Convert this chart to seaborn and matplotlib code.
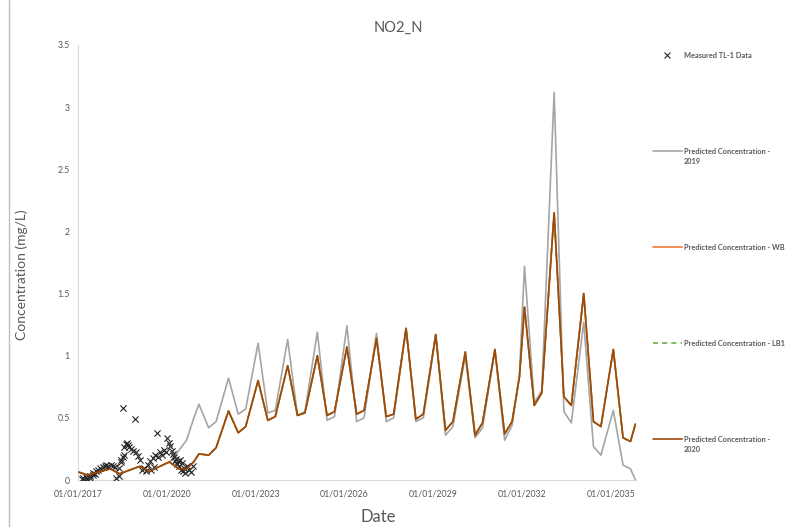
import numpy as np
import pandas as pd
import matplotlib
matplotlib.use("Agg")
import matplotlib.pyplot as plt
from matplotlib.lines import Line2D
import seaborn as sns

# ---- data -------------------------------------------------------------
pred_dates = [
    "2017-01-01", "2017-05-01", "2018-02-01", "2018-06-01", "2019-02-01",
    "2019-06-01", "2020-02-01", "2020-06-01", "2020-09-01", "2020-12-01",
    "2021-02-01", "2021-06-01", "2021-09-01",
    "2022-02-01", "2022-06-01", "2022-09-01",
    "2023-02-01", "2023-06-01", "2023-09-01",
    "2024-02-01", "2024-06-01", "2024-09-01",
    "2025-02-01", "2025-06-01", "2025-09-01",
    "2026-02-01", "2026-06-01", "2026-09-01",
    "2027-02-01", "2027-06-01", "2027-09-01",
    "2028-02-01", "2028-06-01", "2028-09-01",
    "2029-02-01", "2029-06-01", "2029-09-01",
    "2030-02-01", "2030-06-01", "2030-09-01",
    "2031-02-01", "2031-06-01", "2031-09-01", "2031-12-01",
    "2032-02-01", "2032-06-01", "2032-09-01",
    "2033-02-01", "2033-06-01", "2033-09-01",
    "2034-02-01", "2034-06-01", "2034-09-01",
    "2035-02-01", "2035-06-01", "2035-09-01", "2035-11-01",
]

conc_2020 = [
    0.065, 0.04, 0.09, 0.05, 0.11,
    0.07, 0.145, 0.09, 0.09, 0.147,
    0.21, 0.20, 0.26,
    0.555, 0.38, 0.43,
    0.80, 0.48, 0.51,
    0.92, 0.52, 0.54,
    1.00, 0.52, 0.55,
    1.07, 0.53, 0.56,
    1.14, 0.51, 0.53,
    1.22, 0.49, 0.53,
    1.17, 0.40, 0.47,
    1.03, 0.36, 0.46,
    1.05, 0.37, 0.47, 0.83,
    1.39, 0.60, 0.70,
    2.15, 0.67, 0.60,
    1.50, 0.47, 0.43,
    1.05, 0.34, 0.31, 0.45,
]

conc_2019 = [
    np.nan, np.nan, np.nan, np.nan, np.nan,
    np.nan, 0.14, 0.24, 0.32, 0.50,
    0.61, 0.42, 0.47,
    0.82, 0.53, 0.57,
    1.10, 0.54, 0.56,
    1.13, 0.52, 0.55,
    1.19, 0.48, 0.51,
    1.24, 0.47, 0.50,
    1.18, 0.47, 0.50,
    1.22, 0.47, 0.50,
    1.16, 0.36, 0.43,
    1.00, 0.34, 0.42,
    1.04, 0.32, 0.44, 0.85,
    1.72, 0.62, 0.72,
    3.12, 0.55, 0.46,
    1.27, 0.27, 0.20,
    0.56, 0.12, 0.09, 0.0,
]

# WB and LB1 scenarios follow the 2020 run
conc_wb = conc_2020
conc_lb1 = conc_2020

# measured TL-1 samples (decimal year, mg/L)
meas_year = [
    2017.12, 2017.18, 2017.22, 2017.28, 2017.32, 2017.39, 2017.42, 2017.49,
    2017.52, 2017.59, 2017.62, 2017.69, 2017.76, 2017.83, 2017.90, 2017.96,
    2018.03, 2018.10, 2018.17, 2018.24, 2018.30, 2018.37, 2018.37, 2018.44,
    2018.47, 2018.51, 2018.51, 2018.54, 2018.57, 2018.61, 2018.64, 2018.68,
    2018.71, 2018.78, 2018.85, 2018.91, 2018.95, 2019.02, 2019.08, 2019.15,
    2019.22, 2019.29, 2019.35, 2019.42, 2019.46, 2019.52, 2019.56, 2019.59,
    2019.66, 2019.69, 2019.76, 2019.83, 2019.90, 2019.97, 2020.00, 2020.07,
    2020.10, 2020.17, 2020.20, 2020.24, 2020.27, 2020.31, 2020.34, 2020.37,
    2020.41, 2020.44, 2020.47, 2020.51, 2020.54, 2020.58, 2020.61, 2020.68,
    2020.75, 2020.81, 2020.88,
]
meas_val = [
    0.01, 0.015, 0.0, 0.025, 0.01, 0.03, 0.015, 0.04,
    0.055, 0.05, 0.07, 0.08, 0.095, 0.105, 0.11, 0.12,
    0.11, 0.12, 0.11, 0.105, 0.015, 0.03, 0.095, 0.16,
    0.145, 0.185, 0.58, 0.20, 0.265, 0.29, 0.30, 0.28,
    0.265, 0.25, 0.235, 0.49, 0.225, 0.195, 0.16, 0.08,
    0.095, 0.07, 0.12, 0.155, 0.08, 0.175, 0.105, 0.20,
    0.375, 0.185, 0.225, 0.20, 0.24, 0.225, 0.34, 0.30,
    0.275, 0.235, 0.21, 0.185, 0.155, 0.17, 0.13, 0.155,
    0.11, 0.16, 0.08, 0.135, 0.07, 0.095, 0.055, 0.11,
    0.08, 0.065, 0.11,
]

tick_labels = ["01/01/2017", "01/01/2020", "01/01/2023", "01/01/2026",
               "01/01/2029", "01/01/2032", "01/01/2035"]
y_ticks = [0, 0.5, 1, 1.5, 2, 2.5, 3, 3.5]
y_tick_labels = ["0", "0.5", "1", "1.5", "2", "2.5", "3", "3.5"]

legend_labels = ["Measured TL-1 Data", "Predicted Concentration -\n2019",
                 "Predicted Concentration - WB", "Predicted Concentration - LB1",
                 "Predicted Concentration -\n2020"]

# ---- frames -----------------------------------------------------------
pred = pd.DataFrame({
    "date": pd.to_datetime(pred_dates),
    "c2019": conc_2019,
    "cwb": conc_wb,
    "clb1": conc_lb1,
    "c2020": conc_2020,
})
yr = np.array(meas_year)
base = np.floor(yr).astype(int)
meas = pd.DataFrame({
    "date": pd.to_datetime([f"{b}-01-01" for b in base])
            + pd.to_timedelta((yr - base) * 365.25, unit="D"),
    "value": meas_val,
})

# ---- style ------------------------------------------------------------
sns.set_theme(style="white")
plt.rcParams["font.family"] = ["Lato", "DejaVu Sans"]
TXT = "#595959"
GRAY = "#A5A5A5"
ORANGE = "#ED7D31"
GREEN = "#70AD47"
BROWN = "#9E480E"
LW = 1.2

W, H = 790, 527
fig = plt.figure(figsize=(W / 100, H / 100), dpi=100)
fig.patch.set_facecolor("white")
L, R, T, B = 78, 636, 45, 480
ax = fig.add_axes([L / W, 1 - B / H, (R - L) / W, (B - T) / H])

sns.lineplot(data=pred, x="date", y="c2019", ax=ax, color=GRAY, lw=LW,
             estimator=None, sort=False)
sns.lineplot(data=pred, x="date", y="cwb", ax=ax, color=ORANGE, lw=LW,
             estimator=None, sort=False)
sns.lineplot(data=pred, x="date", y="clb1", ax=ax, color=GREEN, lw=LW,
             ls="--", estimator=None, sort=False)
sns.scatterplot(data=meas, x="date", y="value", ax=ax, marker="x",
                color="#262626", s=20, linewidth=0.8, zorder=4)
sns.lineplot(data=pred, x="date", y="c2020", ax=ax, color=BROWN, lw=LW,
             estimator=None, sort=False, zorder=5)

ax.set_xlim(pd.Timestamp("2017-01-01"), pd.Timestamp("2035-11-08"))
ax.set_ylim(0, 3.5)
ax.set_xticks(pd.to_datetime(tick_labels, format="%d/%m/%Y"))
ax.set_xticklabels(tick_labels)
ax.set_yticks(y_ticks)
ax.set_yticklabels(y_tick_labels)
ax.tick_params(length=0, labelsize=6.3, colors=TXT)
ax.tick_params(axis="x", pad=7)
ax.tick_params(axis="y", pad=6)
for s in ["top", "right"]:
    ax.spines[s].set_visible(False)
for s in ["left", "bottom"]:
    ax.spines[s].set_color("#D9D9D9")
    ax.spines[s].set_linewidth(0.8)
ax.set_xlabel("")
ax.set_ylabel("Concentration (mg/L)", fontsize=10, color=TXT)
ax.yaxis.set_label_coords((28 - L) / (R - L), (B - 275) / (B - T))

fig.text(398 / W, 1 - 28 / H, "NO2_N", ha="center", va="center",
         fontsize=10.5, color=TXT)
fig.text(378 / W, 1 - 517 / H, "Date", ha="center", va="center",
         fontsize=12, color=TXT)

# legend on the right, entries spread down the chart height
handles = [
    dict(marker="x", color="#262626"),
    dict(color=GRAY, ls="-"),
    dict(color=ORANGE, ls="-"),
    dict(color=GREEN, ls=(0, (3, 2.5))),
    dict(color=BROWN, ls="-"),
]
ys = [55, 151, 247, 343, 439]
for lab, hd, yy in zip(legend_labels, handles, ys):
    fy = 1 - yy / H
    if "marker" in hd:
        fig.add_artist(Line2D([667 / W], [fy], transform=fig.transFigure,
                              marker="x", ms=4, mew=0.8, color=hd["color"],
                              ls="none"))
    else:
        fig.add_artist(Line2D([653 / W, 682 / W], [fy, fy],
                              transform=fig.transFigure, color=hd["color"],
                              lw=LW, ls=hd["ls"]))
    for i, ln in enumerate(lab.split("\n")):
        fig.text(684 / W, 1 - (yy + i * 11) / H, ln, ha="left", va="center",
                 fontsize=5.3, fontweight="bold", color=TXT)

# frame edge on the left
fig.add_artist(Line2D([9 / W, 9 / W], [0, 1], transform=fig.transFigure,
                      color="#BFBFBF", lw=1))

fig.savefig("out.png", dpi=100, facecolor="white")
